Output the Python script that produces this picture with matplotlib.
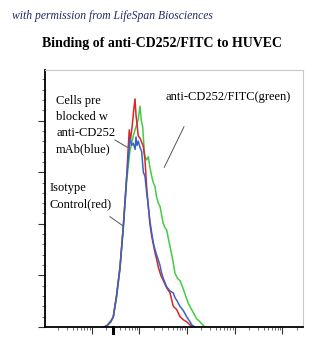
import numpy as np
import matplotlib
matplotlib.use("Agg")
import matplotlib.pyplot as plt
from matplotlib.ticker import MultipleLocator, LogLocator, NullFormatter

# log10 fluorescence intensity and cell counts
blue_logx = [1.25, 1.314, 1.40, 1.453, 1.52, 1.593, 1.662, 1.734, 1.78, 1.803, 1.84, 1.872, 1.91,
             1.929, 1.95, 1.977, 2.013, 2.048, 2.082, 2.117, 2.153, 2.187, 2.22, 2.258, 2.29, 2.327,
             2.36, 2.396, 2.43, 2.468, 2.50, 2.572, 2.64, 2.711, 2.75, 2.782, 2.85, 2.92, 2.99,
             3.061, 3.10, 3.166]
blue_counts = [0, 1, 5, 10, 30, 58, 97, 146, 170, 183, 176, 178, 172,
               184, 176, 180, 174, 170, 150, 146, 130, 117, 103, 91, 82, 75,
               70, 65, 60, 52, 47, 39, 35, 33, 28, 26, 20, 16, 10,
               5, 2, 0]

red_logx = [1.25, 1.314, 1.40, 1.453, 1.52, 1.593, 1.662, 1.734, 1.767, 1.788, 1.81, 1.85, 1.88,
            1.908, 1.93, 1.956, 1.977, 2.013, 2.048, 2.082, 2.117, 2.153, 2.187, 2.22, 2.258,
            2.327, 2.36, 2.396, 2.45, 2.501, 2.572, 2.642, 2.711, 2.78, 2.851, 2.92, 2.992,
            3.06, 3.13]
red_counts = [0, 1, 5, 10, 30, 58, 97, 146, 175, 191, 180, 195, 210,
              221, 205, 194, 185, 183, 179, 175, 162, 135, 117, 100, 88,
              72, 66, 58, 50, 45, 38, 33, 20, 17, 10, 7, 5,
              2, 0]

green_logx = [1.25, 1.31, 1.45, 1.52, 1.593, 1.662, 1.734, 1.80, 1.87, 1.929, 1.97, 2.013, 2.04,
              2.069, 2.10, 2.117, 2.153, 2.187, 2.22, 2.258, 2.29, 2.327, 2.36, 2.396, 2.432,
              2.468, 2.501, 2.54, 2.572, 2.61, 2.642, 2.70, 2.746, 2.80, 2.851, 2.92, 2.97,
              3.025, 3.08, 3.13, 3.20, 3.27, 3.33, 3.375]
green_counts = [0, 1, 9, 28, 56, 95, 142, 170, 185, 194, 200, 214, 200,
                194, 172, 165, 162, 165, 155, 146, 140, 136, 126, 120, 117,
                108, 100, 96, 94, 85, 78, 65, 52, 47, 45, 37, 30,
                23, 18, 14, 8, 5, 2, 0]

title = "Binding of anti-CD252/FITC to HUVEC"
credit = "with permission from LifeSpan Biosciences"

fig = plt.figure(figsize=(3.33, 3.64), dpi=100)
ax = fig.add_axes([45/333, 1-327/364, 258/333, 257/364])

ax.plot(10**np.array(green_logx), green_counts, color="#44cc44", lw=1.1)
ax.plot(10**np.array(red_logx), red_counts, color="#d42828", lw=1.1)
ax.plot(10**np.array(blue_logx), blue_counts, color="#3a62c4", lw=1.1)

ax.set_xscale("log")
ax.set_xlim(10**0.021, 10**5.43)
ax.set_ylim(0, 249)
ax.yaxis.set_major_locator(MultipleLocator(50))
ax.yaxis.set_minor_locator(MultipleLocator(10))
ax.xaxis.set_major_locator(LogLocator(base=10))
ax.xaxis.set_minor_locator(LogLocator(base=10, subs=np.arange(2, 10)))
ax.xaxis.set_major_formatter(NullFormatter())
ax.xaxis.set_minor_formatter(NullFormatter())
ax.yaxis.set_major_formatter(NullFormatter())
ax.tick_params(which="major", length=5, width=0.8, color="#333333", direction="out")
ax.tick_params(which="minor", length=2.5, width=0.6, color="#555555", direction="out")

for s in ["left", "bottom"]:
    ax.spines[s].set_color("black")
    ax.spines[s].set_linewidth(1.3)
for s in ["top", "right"]:
    ax.spines[s].set_color("#c8c8c8")
    ax.spines[s].set_linewidth(0.8)

# small black marker below the axis
fig.add_artist(plt.Line2D([113/333, 113/333], [1-327/364, 1-333/364], color="black", lw=2.2))

fig.text(12/333, 1-16/364, credit, fontsize=8.4, style="italic", family="Liberation Serif",
         color="#1f2a66", va="center", ha="left")
fig.text(162/333, 1-43/364, title, fontsize=10, fontweight="bold", family="Liberation Serif",
         color="black", va="center", ha="center")

serif = dict(family="Liberation Serif", fontsize=9, color="black")
fig.text(56/333, 1-95/364, "Cells pre\nblocked w\nanti-CD252\nmAb(blue)", va="top", ha="left",
         linespacing=1.45, **serif)
fig.text(165/333, 1-97/364, "anti-CD252/FITC(green)", va="center", ha="left", **serif)
fig.text(50/333, 1-182/364, "Isotype\nControl(red)", va="top", ha="left", linespacing=1.45, **serif)

for (x0, y0, x1, y1) in [(115, 140, 127.3, 147.3), (184, 126.7, 164.3, 167.3), (110, 216.7, 122.7, 225.7)]:
    fig.add_artist(plt.Line2D([x0/333, x1/333], [1-y0/364, 1-y1/364], color="#555555", lw=0.7))

fig.savefig("out.png", dpi=100)
